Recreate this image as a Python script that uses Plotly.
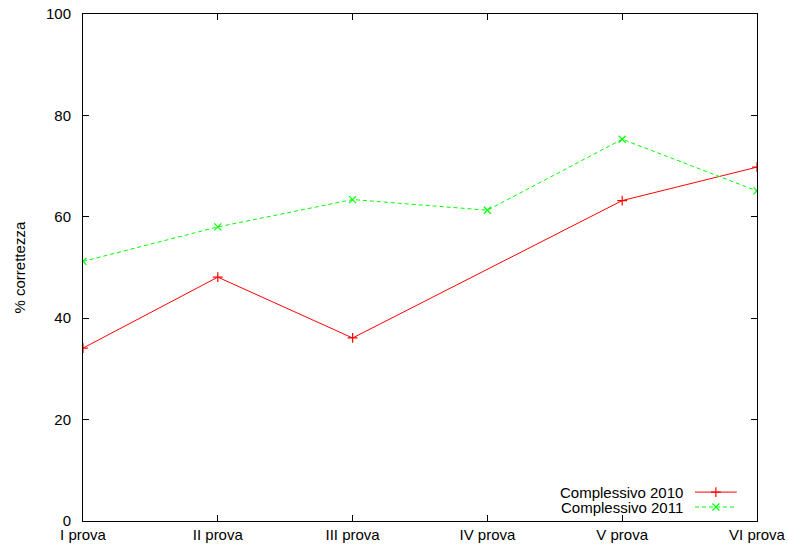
import plotly.graph_objects as go

# Test sessions and overall correctness percentages per year
prove = ["I prova", "II prova", "III prova", "IV prova", "V prova", "VI prova"]
complessivo_2010 = [34.1, 48.1, 36.1, None, 63.2, 69.8]
complessivo_2011 = [51.2, 58.0, 63.4, 61.3, 75.3, 65.1]
y_ticks = [0, 20, 40, 60, 80, 100]

FONT = "Liberation Sans, Arial, Helvetica, sans-serif"
FS = 15
RED = "#ff0000"
GREEN = "#00ff00"

fig = go.Figure()

fig.add_trace(go.Scatter(
    x=prove, y=complessivo_2010, mode="lines+markers", connectgaps=True,
    line=dict(color=RED, width=1),
    marker=dict(symbol="cross-thin", size=7, line=dict(color=RED, width=1.2)),
    name="Complessivo 2010", showlegend=False,
))
fig.add_trace(go.Scatter(
    x=prove, y=complessivo_2011, mode="lines+markers",
    line=dict(color=GREEN, width=1, dash="4px,3px"),
    marker=dict(symbol="x-thin", size=7, line=dict(color=GREEN, width=1.2)),
    name="Complessivo 2011", showlegend=False,
))

# Key samples drawn on an overlay axis in unit coordinates
key_x = [0.908, 0.939, 0.970]
key_y = [0.057, 0.0276]
fig.add_trace(go.Scatter(
    x=key_x, y=[key_y[0]] * 3, xaxis="x2", yaxis="y2", mode="lines",
    line=dict(color=RED, width=1), showlegend=False, hoverinfo="skip",
))
fig.add_trace(go.Scatter(
    x=[key_x[1]], y=[key_y[0]], xaxis="x2", yaxis="y2", mode="markers",
    marker=dict(symbol="cross-thin", size=7, line=dict(color=RED, width=1.2)),
    showlegend=False, hoverinfo="skip",
))
fig.add_trace(go.Scatter(
    x=key_x, y=[key_y[1]] * 3, xaxis="x2", yaxis="y2", mode="lines",
    line=dict(color=GREEN, width=1, dash="4px,3px"), showlegend=False, hoverinfo="skip",
))
fig.add_trace(go.Scatter(
    x=[key_x[1]], y=[key_y[1]], xaxis="x2", yaxis="y2", mode="markers",
    marker=dict(symbol="x-thin", size=7, line=dict(color=GREEN, width=1.2)),
    showlegend=False, hoverinfo="skip",
))

axis_common = dict(
    showline=True, linecolor="black", linewidth=1, mirror="ticks",
    ticks="inside", ticklen=6, tickcolor="black", tickwidth=1,
    showgrid=False, zeroline=False, automargin=False,
    tickfont=dict(family=FONT, size=FS, color="black"),
)

fig.update_layout(
    width=789, height=549,
    margin=dict(l=83, r=32, t=14, b=28),
    paper_bgcolor="white", plot_bgcolor="white",
    font=dict(family=FONT, size=FS, color="black"),
    xaxis=dict(**axis_common, range=[0, 5], type="category"),
    yaxis=dict(**axis_common, range=[0, 100], tickvals=y_ticks, ticklabelstandoff=8),
    xaxis2=dict(overlaying="x", range=[0, 1], visible=False),
    yaxis2=dict(overlaying="y", range=[0, 1], visible=False),
    annotations=[
        dict(text="% correttezza", xref="paper", yref="paper", x=-0.0935, y=0.5,
             xanchor="center", yanchor="middle",
             textangle=-90, showarrow=False, font=dict(family=FONT, size=FS)),
        dict(text="Complessivo 2010", xref="paper", yref="paper", x=0.893, y=key_y[0],
             xanchor="right", yanchor="middle", showarrow=False, font=dict(family=FONT, size=FS)),
        dict(text="Complessivo 2011", xref="paper", yref="paper", x=0.893, y=key_y[1],
             xanchor="right", yanchor="middle", showarrow=False, font=dict(family=FONT, size=FS)),
    ],
)

fig.write_html("out.html")
